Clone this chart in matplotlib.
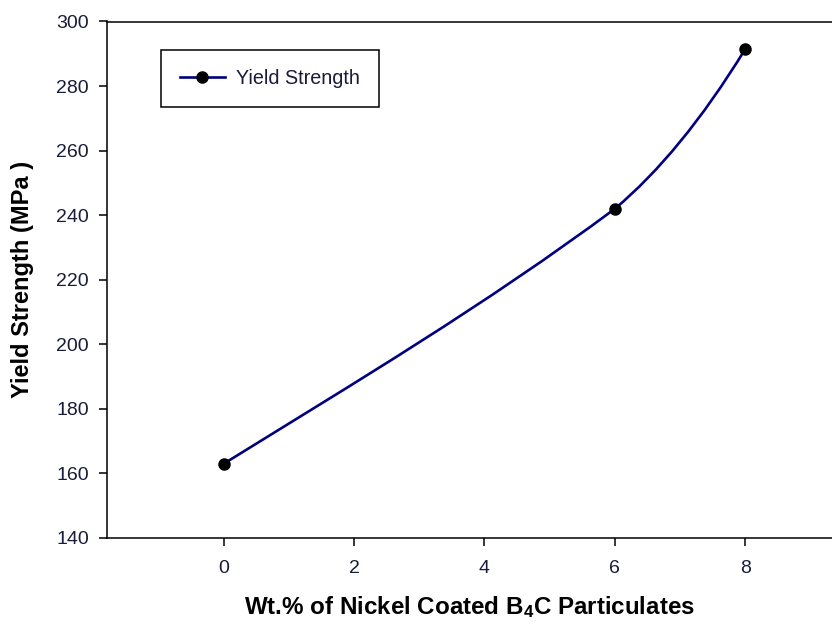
import matplotlib
matplotlib.use("Agg")
import matplotlib.pyplot as plt
from matplotlib.path import Path
from matplotlib.patches import PathPatch
from matplotlib.lines import Line2D

# データ
wt_percent = [0, 6, 8]
yield_strength = [163, 242, 291.5]
x_ticks = [0, 2, 4, 6, 8]
y_ticks = [140, 160, 180, 200, 220, 240, 260, 280, 300]

# 曲線の接線の傾き（各区間の始点・終点）
seg_slopes = [(12.5, 15.0), (17.0, 33.0)]

plt.rcParams['font.family'] = ['Liberation Sans', 'DejaVu Sans']
plt.rcParams['mathtext.fontset'] = 'custom'
plt.rcParams['mathtext.rm'] = 'Liberation Sans:bold'
plt.rcParams['mathtext.default'] = 'rm'

LINE_COLOR = "#000080"
TEXT_COLOR = "#1a1a3a"

fig = plt.figure(figsize=(8.32, 6.25), dpi=100)
ax = fig.add_axes([107 / 832, 1 - 538 / 625, 1 - 107 / 832, (538 - 21.5) / 625])

# 滑らかな線（各区間を3次ベジェで描く）
verts = [(wt_percent[0], yield_strength[0])]
codes = [Path.MOVETO]
for i, (m0, m1) in enumerate(seg_slopes):
    x0, x1 = wt_percent[i], wt_percent[i + 1]
    y0, y1 = yield_strength[i], yield_strength[i + 1]
    h = x1 - x0
    verts += [(x0 + h / 3, y0 + m0 * h / 3),
              (x1 - h / 3, y1 - m1 * h / 3),
              (x1, y1)]
    codes += [Path.CURVE4] * 3
ax.add_patch(PathPatch(Path(verts, codes), facecolor="none",
                       edgecolor=LINE_COLOR, lw=1.9, zorder=2))

ax.plot(wt_percent, yield_strength, linestyle="none", marker="o",
        color="black", markersize=8, zorder=3)

ax.set_xlim(-1.79, 9.33)
ax.set_ylim(140, 300)
ax.set_xticks(x_ticks)
ax.set_yticks(y_ticks)
ax.tick_params(axis="both", direction="out", length=5.5, width=1.1,
               labelsize=14, labelcolor=TEXT_COLOR)
ax.tick_params(axis="x", pad=10)
ax.tick_params(axis="y", pad=7.5)

ax.spines["right"].set_visible(False)
for s in ["left", "bottom", "top"]:
    ax.spines[s].set_linewidth(1.1)
    ax.spines[s].set_color("black")

ax.set_xlabel(r"Wt.% of Nickel Coated B$_4$C Particulates",
              fontsize=17.4, fontweight="bold", color="black")
ax.set_ylabel("Yield Strength (MPa )", fontsize=17, fontweight="bold", color="black")
ax.xaxis.set_label_coords(0.5, -0.108)
ax.yaxis.set_label_coords(-0.1, 0.5)

handle = Line2D([], [], color=LINE_COLOR, lw=1.9, marker="o",
                markerfacecolor="black", markeredgecolor="black", markersize=8)
leg = ax.legend([handle], ["Yield Strength"], loc="upper left",
                bbox_to_anchor=(0.0745, 0.944), borderaxespad=0,
                fontsize=14.2, fancybox=False, framealpha=1,
                handlelength=2.3, handletextpad=0.55, borderpad=0.95,
                labelcolor=TEXT_COLOR)
leg.get_frame().set_edgecolor("black")
leg.get_frame().set_linewidth(1.1)

fig.savefig("out.png", dpi=100)
